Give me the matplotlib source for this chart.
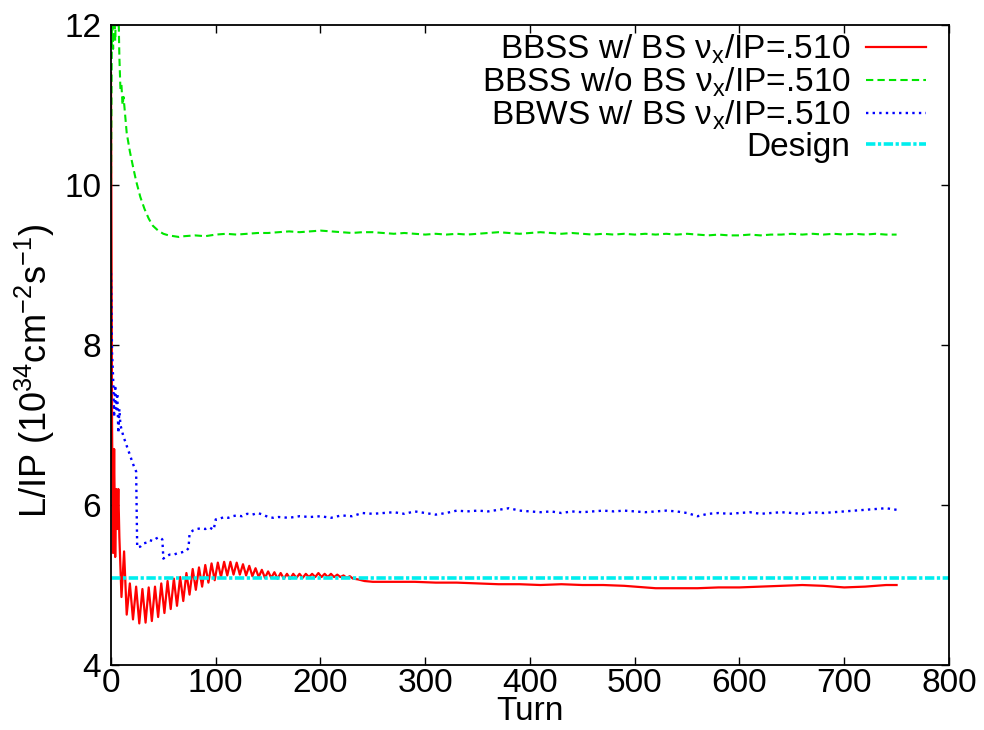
import numpy as np
import matplotlib
matplotlib.use("Agg")
import matplotlib.pyplot as plt

plt.rcParams["font.family"] = ["Liberation Sans", "DejaVu Sans"]
plt.rcParams["mathtext.fontset"] = "custom"
plt.rcParams["mathtext.rm"] = "Liberation Sans"
plt.rcParams["mathtext.it"] = "Liberation Sans"
plt.rcParams["mathtext.default"] = "regular"

# BBSS with beam-beam, strong-strong
red_turn = [0, 1, 2, 3, 4, 5, 6, 7, 8, 10,
            12.5, 15, 18, 21, 24, 27, 30, 33, 36, 39,
            42, 45, 48, 51, 54, 57, 60, 63, 66, 69,
            72, 75, 78, 81, 84, 87, 90, 93, 96, 99,
            102, 105, 108, 111, 114, 117, 120, 123, 126, 129,
            132, 135, 138, 141, 144, 147, 150, 153, 156, 159,
            162, 165, 168, 171, 174, 177, 180, 183, 186, 189,
            192, 195, 198, 201, 204, 207, 210, 213, 216, 219,
            222, 225, 228, 231, 236, 242, 250, 260, 275, 290,
            310, 330, 350, 370, 390, 410, 430, 450, 470, 490,
            500, 510, 520, 540, 560, 580, 600, 620, 640, 660,
            680, 700, 720, 740, 750]
red_lum = [11.4, 7.0, 5.4, 6.7, 5.35, 6.2, 5.7, 6.2, 5.6, 4.85,
           5.42, 4.63, 5.02, 4.57, 4.98, 4.52, 4.95, 4.53, 4.97, 4.55,
           4.98, 4.60, 5.02, 4.65, 5.05, 4.70, 5.08, 4.74, 5.10, 4.80,
           5.15, 4.88, 5.20, 4.94, 5.22, 4.98, 5.25, 5.03, 5.27, 5.06,
           5.28, 5.10, 5.29, 5.12, 5.29, 5.13, 5.28, 5.13, 5.26, 5.12,
           5.24, 5.11, 5.21, 5.10, 5.19, 5.09, 5.17, 5.09, 5.16, 5.08,
           5.15, 5.08, 5.14, 5.08, 5.14, 5.09, 5.14, 5.09, 5.14, 5.10,
           5.14, 5.10, 5.15, 5.10, 5.14, 5.10, 5.14, 5.10, 5.13, 5.10,
           5.12, 5.09, 5.11, 5.08, 5.07, 5.05, 5.04, 5.04, 5.04, 5.04,
           5.03, 5.03, 5.02, 5.01, 5.01, 5.00, 5.01, 5.00, 5.00, 4.99,
           4.98, 4.97, 4.96, 4.96, 4.96, 4.97, 4.97, 4.98, 4.99, 5.00,
           4.99, 4.97, 4.98, 5.00, 5.00]

# BBSS without beam-beam
green_turn = [0, 1, 2, 3, 4, 5, 6, 7, 8, 9, 10, 11, 12,
              15, 18, 21, 24, 28, 32, 36, 40, 45, 50, 55, 60, 65] + list(range(70, 760, 10))
green_lum = [10.0, 12.3, 11.7, 12.4, 11.8, 12.3, 12.1, 12.3, 11.6, 11.2, 11.25, 11.0, 11.1,
             10.65, 10.42, 10.23, 10.05, 9.85, 9.70, 9.58, 9.49, 9.43, 9.39, 9.37, 9.36, 9.35,
             9.36, 9.37, 9.36, 9.38, 9.39, 9.38, 9.39, 9.40, 9.40, 9.41,
             9.42, 9.41, 9.42, 9.43, 9.42, 9.41, 9.40, 9.41, 9.41, 9.40,
             9.39, 9.40, 9.39, 9.38, 9.39, 9.38, 9.39, 9.38, 9.39, 9.40,
             9.41, 9.40, 9.39, 9.40, 9.41, 9.40, 9.39, 9.40, 9.39, 9.38,
             9.39, 9.38, 9.39, 9.38, 9.39, 9.38, 9.39, 9.38, 9.39, 9.38,
             9.37, 9.38, 9.37, 9.37, 9.38, 9.37, 9.38, 9.38, 9.39, 9.38,
             9.39, 9.38, 9.39, 9.38, 9.39, 9.38, 9.39, 9.38, 9.38]

# BBWS with beam-beam, weak-strong
blue_turn = [0, 1, 2, 3, 4, 5, 6, 7, 8, 9, 10,
             12, 14, 16, 18, 20, 22, 24,
             25, 28, 31, 34, 37, 40, 43, 46, 49,
             50, 53, 56, 60, 64, 68, 72, 74,
             75, 78, 82, 86, 90, 94, 98,
             100, 104, 108, 112, 116, 120, 125, 130, 135, 140, 145, 150, 155] + list(range(160, 760, 10))
blue_lum = [8.9, 7.9, 7.6, 7.1, 7.5, 7.2, 7.4, 6.9, 7.2, 7.0, 6.95,
            6.85, 6.78, 6.70, 6.63, 6.55, 6.48, 6.42,
            5.47, 5.48, 5.52, 5.53, 5.56, 5.55, 5.58, 5.60, 5.57,
            5.33, 5.36, 5.38, 5.38, 5.40, 5.41, 5.43, 5.46,
            5.64, 5.68, 5.70, 5.71, 5.70, 5.72, 5.69,
            5.82, 5.83, 5.85, 5.84, 5.86, 5.87, 5.86, 5.89, 5.88, 5.90, 5.88, 5.85, 5.84,
            5.85, 5.84, 5.86, 5.85, 5.86, 5.84, 5.87, 5.86, 5.90, 5.89,
            5.90, 5.91, 5.89, 5.92, 5.90, 5.88, 5.90, 5.93, 5.92, 5.93,
            5.92, 5.94, 5.96, 5.93, 5.92, 5.91, 5.92, 5.90, 5.92, 5.91,
            5.92, 5.93, 5.92, 5.93, 5.92, 5.91, 5.92, 5.93, 5.92, 5.90,
            5.86, 5.89, 5.90, 5.89, 5.90, 5.91, 5.89, 5.90, 5.91, 5.90,
            5.89, 5.91, 5.90, 5.91, 5.92, 5.93, 5.94, 5.95, 5.96, 5.94]

design_lum = 5.09

labels = [r"BBSS w/ BS $\nu_x$/IP=.510",
          r"BBSS w/o BS $\nu_x$/IP=.510",
          r"BBWS w/ BS $\nu_x$/IP=.510",
          "Design"]

fig = plt.figure(figsize=(9.84, 7.30), dpi=100)
ax = fig.add_axes([0.1128, 0.089, 0.8516, 0.8768])

ax.plot(red_turn, red_lum, color="#ff0000", lw=1.6, label=labels[0])
ax.plot(green_turn, green_lum, color="#00e600", lw=1.5, linestyle=(0, (3.5, 2)), label=labels[1])
ax.plot(blue_turn, blue_lum, color="#0000ff", lw=1.7, linestyle=(0, (1, 1.8)), label=labels[2])
ax.axhline(design_lum, color="#00eeee", lw=2.6, linestyle=(0, (2.6, 0.7, 0.9, 0.7)), label=labels[3])

ax.set_xlim(0, 800)
ax.set_ylim(4, 12)
ax.set_xticks(np.arange(0, 801, 100))
ax.set_yticks(np.arange(4, 13, 2))
ax.tick_params(direction="in", length=6, width=1, top=True, right=True, labelsize=24)
ax.tick_params(axis="x", pad=2)
ax.tick_params(axis="y", pad=7)
for s in ax.spines.values():
    s.set_linewidth(1.3)

ax.set_xlabel("Turn", fontsize=24, labelpad=-2)
ax.set_ylabel(r"L/IP (10$^{34}$cm$^{-2}$s$^{-1}$)", fontsize=26)
ax.yaxis.set_label_coords(-0.064, 0.459)

ax.legend(loc="upper right", bbox_to_anchor=(0.972, 0.988), frameon=False, fontsize=24,
          markerfirst=False, handlelength=1.8, handletextpad=0.45, labelspacing=-0.01,
          borderaxespad=0, borderpad=0)

plt.savefig("out.png", dpi=100)
